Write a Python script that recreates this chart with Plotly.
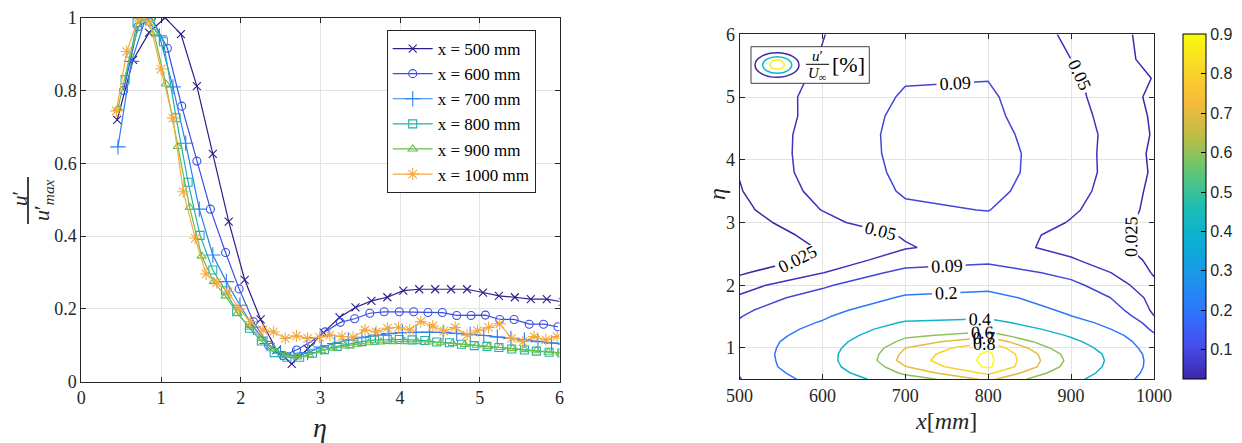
import plotly.graph_objects as go

W, H = 1242, 443
OFF = 8  # the page body adds an 8px margin around the figure


def px(x):
    return (x - OFF) / W


def py(y):
    return 1 - (y - OFF) / H


# ---------------- left panel: normalised profiles ----------------
eta_500 = [0.45, 0.65, 0.85, 1.05, 1.25, 1.45, 1.65, 1.85, 2.05, 2.25, 2.45, 2.64, 2.84, 3.04, 3.24, 3.44,
           3.64, 3.84, 4.04, 4.24, 4.44, 4.64, 4.84, 5.04, 5.24, 5.44, 5.64, 5.84, 6.04]
u_500 = [0.719, 0.884, 0.959, 1.0, 0.955, 0.812, 0.626, 0.44, 0.28, 0.171, 0.087, 0.049, 0.09, 0.135, 0.177,
         0.204, 0.222, 0.232, 0.25, 0.254, 0.254, 0.254, 0.254, 0.245, 0.236, 0.232, 0.227, 0.227, 0.219]

eta_600 = [0.53, 0.71, 0.88, 1.08, 1.26, 1.45, 1.62, 1.81, 1.98, 2.16, 2.35, 2.53, 2.70, 2.88, 3.06, 3.25,
           3.43, 3.62, 3.80, 3.99, 4.17, 4.35, 4.53, 4.71, 4.89, 5.07, 5.25, 5.43, 5.62, 5.80, 5.98]
u_600 = [0.80, 0.975, 1.0, 0.916, 0.757, 0.606, 0.474, 0.355, 0.255, 0.165, 0.10, 0.072, 0.087, 0.11, 0.137,
         0.163, 0.173, 0.188, 0.192, 0.192, 0.192, 0.19, 0.19, 0.182, 0.182, 0.183, 0.171, 0.171, 0.158,
         0.158, 0.151]

eta_700 = [0.46, 0.63, 0.81, 0.98, 1.15, 1.31, 1.48, 1.65, 1.82, 1.99, 2.16, 2.33, 2.50, 2.67, 2.84, 3.01,
           3.18, 3.35, 3.52, 3.69, 3.86, 4.03, 4.20, 4.37, 4.54, 4.71, 4.88, 5.05, 5.22, 5.39, 5.56, 5.73,
           5.90, 6.07]
u_700 = [0.645, 0.88, 1.0, 0.95, 0.81, 0.655, 0.474, 0.348, 0.275, 0.21, 0.15, 0.105, 0.08, 0.072, 0.08,
         0.095, 0.105, 0.115, 0.122, 0.128, 0.132, 0.135, 0.136, 0.136, 0.135, 0.133, 0.13, 0.127, 0.123,
         0.119, 0.115, 0.11, 0.106, 0.103]

eta_800 = [0.55, 0.70, 0.87, 1.03, 1.19, 1.34, 1.49, 1.65, 1.81, 1.95, 2.11, 2.26, 2.42, 2.58, 2.74, 2.90,
           3.05, 3.21, 3.37, 3.52, 3.68, 3.84, 3.99, 4.15, 4.31, 4.46, 4.62, 4.77, 4.93, 5.09, 5.24, 5.40,
           5.56, 5.71, 5.87, 6.03]
u_800 = [0.83, 0.986, 1.0, 0.934, 0.725, 0.548, 0.402, 0.307, 0.25, 0.192, 0.147, 0.112, 0.08, 0.067, 0.067,
         0.078, 0.088, 0.097, 0.104, 0.11, 0.114, 0.116, 0.116, 0.115, 0.113, 0.109, 0.107, 0.103, 0.099,
         0.097, 0.094, 0.09, 0.087, 0.084, 0.081, 0.079]

eta_900 = [0.46, 0.61, 0.76, 0.91, 1.06, 1.21, 1.36, 1.51, 1.66, 1.81, 1.96, 2.11, 2.26, 2.41, 2.56, 2.71,
           2.86, 3.01, 3.16, 3.31, 3.46, 3.61, 3.76, 3.91, 4.06, 4.21, 4.36, 4.51, 4.66, 4.81, 4.96, 5.11,
           5.26, 5.41, 5.56, 5.71, 5.86, 6.01]
u_900 = [0.751, 0.897, 1.0, 0.96, 0.818, 0.646, 0.479, 0.345, 0.275, 0.235, 0.188, 0.15, 0.119, 0.09, 0.073,
         0.068, 0.074, 0.085, 0.092, 0.098, 0.103, 0.107, 0.109, 0.11, 0.11, 0.11, 0.109, 0.107, 0.105,
         0.102, 0.1, 0.097, 0.094, 0.091, 0.088, 0.085, 0.081, 0.079]

eta_1000 = [0.44, 0.57, 0.72, 0.855, 1.0, 1.15, 1.28, 1.43, 1.565, 1.70, 1.84, 1.98, 2.12, 2.28, 2.41, 2.56,
            2.70, 2.84, 2.99, 3.12, 3.27, 3.41, 3.56, 3.70, 3.84, 3.98, 4.12, 4.26, 4.41, 4.55, 4.69, 4.84,
            4.97, 5.11, 5.25, 5.40, 5.54, 5.68, 5.83, 5.97]
u_1000 = [0.744, 0.907, 1.0, 0.99, 0.859, 0.724, 0.522, 0.394, 0.296, 0.272, 0.247, 0.20, 0.165, 0.142,
          0.137, 0.119, 0.126, 0.119, 0.122, 0.128, 0.124, 0.122, 0.142, 0.137, 0.147, 0.149, 0.142, 0.165,
          0.153, 0.139, 0.149, 0.128, 0.140, 0.149, 0.159, 0.119, 0.11, 0.124, 0.115, 0.124]

legend_names = ["x = 500 mm", "x = 600 mm", "x = 700 mm", "x = 800 mm", "x = 900 mm", "x = 1000 mm"]

# ---------------- right panel: u'/U_inf field ----------------
x_stations = [500, 600, 700, 800, 900, 1000]
eta_grid = [0.5, 0.6, 0.7, 0.8, 0.9, 1.0, 1.1, 1.2, 1.3, 1.4, 1.5, 1.6, 1.8, 2.0, 2.2, 2.4, 2.6, 2.8, 3.0,
            3.2, 3.5, 3.8, 4.1, 4.4, 4.7, 5.0, 5.3, 5.6, 6.0]
z_500 = [0.086, 0.095, 0.102, 0.106, 0.110, 0.112, 0.112, 0.109, 0.104, 0.096, 0.087, 0.076, 0.055, 0.036,
         0.022, 0.012, 0.0065, 0.0093, 0.014, 0.019, 0.0236, 0.026, 0.0284, 0.0287, 0.0287, 0.0279, 0.0266,
         0.026, 0.0253]
z_600 = [0.251, 0.282, 0.314, 0.321, 0.322, 0.309, 0.292, 0.263, 0.236, 0.21, 0.184, 0.159, 0.117, 0.080,
         0.049, 0.030, 0.027, 0.0325, 0.0416, 0.0507, 0.058, 0.0624, 0.0624, 0.0618, 0.059, 0.0594, 0.0556,
         0.0517, 0.049]
z_700 = [0.525, 0.629, 0.695, 0.745, 0.730, 0.700, 0.638, 0.571, 0.499, 0.419, 0.344, 0.289, 0.213, 0.155,
         0.104, 0.066, 0.048, 0.052, 0.071, 0.084, 0.094, 0.098, 0.101, 0.102, 0.100, 0.094, 0.087, 0.083,
         0.077]
z_800 = [0.724, 0.82, 0.917, 0.925, 0.919, 0.88, 0.784, 0.663, 0.553, 0.456, 0.368, 0.313, 0.236, 0.166,
         0.117, 0.078, 0.062, 0.066, 0.079, 0.091, 0.101, 0.107, 0.108, 0.103, 0.098, 0.095, 0.089, 0.082,
         0.075]
z_900 = [0.454, 0.510, 0.551, 0.569, 0.554, 0.503, 0.444, 0.378, 0.314, 0.255, 0.204, 0.174, 0.137, 0.102,
         0.075, 0.053, 0.041, 0.041, 0.048, 0.054, 0.060, 0.063, 0.063, 0.063, 0.060, 0.057, 0.054, 0.050,
         0.045]
z_1000 = [0.123, 0.139, 0.148, 0.149, 0.143, 0.129, 0.115, 0.099, 0.076, 0.063, 0.051, 0.0435, 0.038, 0.029,
          0.023, 0.0206, 0.018, 0.018, 0.018, 0.019, 0.020, 0.022, 0.021, 0.023, 0.022, 0.020, 0.024, 0.018,
          0.018]
contour_levels = [0.025, 0.05, 0.09, 0.2, 0.4, 0.6, 0.7, 0.8, 0.9]
cbar_ticks = [0.1, 0.2, 0.3, 0.4, 0.5, 0.6, 0.7, 0.8, 0.9]
CMIN, CMAX = 0.025, 0.9

# ---------------- styles ----------------
colors = ["#2b1f8c", "#3a4ee6", "#2a7ff0", "#1fb0b0", "#6cbd4c", "#f7a83c"]
symbols = ["x-thin-open", "circle-open", "cross-thin-open", "square-open", "triangle-up-open", "asterisk-open"]
sizes = [8, 8, 11, 8, 8, 10]

parula_stops = [(0.0, (62, 38, 168)), (0.1, (71, 78, 238)), (0.2, (45, 119, 252)),
                (0.3, (27, 150, 234)), (0.4, (10, 175, 212)), (0.5, (30, 190, 178)),
                (0.6, (95, 198, 118)), (0.7, (185, 190, 70)), (0.8, (246, 186, 60)),
                (0.9, (250, 214, 40)), (1.0, (249, 251, 14))]
parula = [[s, "rgb(%d,%d,%d)" % c] for s, c in parula_stops]


def parula_at(t):
    t = min(max(t, 0.0), 1.0)
    for (s0, c0), (s1, c1) in zip(parula_stops[:-1], parula_stops[1:]):
        if s0 <= t <= s1:
            f = (t - s0) / (s1 - s0)
            return "rgb(%d,%d,%d)" % tuple(round(a + f * (b - a)) for a, b in zip(c0, c1))
    return "rgb(%d,%d,%d)" % parula_stops[-1][1]


SERIF = "Liberation Serif"
AX = "#262626"

fig = go.Figure()

profiles = [(eta_500, u_500), (eta_600, u_600), (eta_700, u_700),
            (eta_800, u_800), (eta_900, u_900), (eta_1000, u_1000)]
for (e, u), name, c, s, sz in zip(profiles, legend_names, colors, symbols, sizes):
    fig.add_trace(go.Scatter(
        x=e, y=u, mode="lines+markers", name=name,
        line=dict(color=c, width=1.2),
        marker=dict(symbol=s, size=sz, color=c, line=dict(color=c, width=1.1)),
        xaxis="x", yaxis="y"))

Z = [list(row) for row in zip(z_500, z_600, z_700, z_800, z_900, z_1000)]
for lv in contour_levels:
    fig.add_trace(go.Contour(
        x=x_stations, y=eta_grid, z=Z, autocontour=False,
        contours=dict(start=lv, end=lv, size=0.001, coloring="none", showlabels=True,
                      labelfont=dict(family=SERIF, size=18, color="black")),
        line=dict(width=1.5, smoothing=0, color=parula_at((lv - CMIN) / (CMAX - CMIN))),
        showscale=False, xaxis="x2", yaxis="y2",
        showlegend=False, hoverinfo="skip"))

# colour bar carrier (no visible marks)
fig.add_trace(go.Scatter(
    x=[None], y=[None], mode="markers", showlegend=False, hoverinfo="skip",
    xaxis="x2", yaxis="y2",
    marker=dict(color=[CMIN], colorscale=parula, cmin=CMIN, cmax=CMAX, showscale=True,
                colorbar=dict(x=px(1182.7), xanchor="left", y=py(206.8), yanchor="middle",
                              thickness=23, thicknessmode="pixels",
                              len=345 / H, lenmode="fraction", xpad=0, ypad=0,
                              tickvals=cbar_ticks, ticks="inside", ticklen=5, tickcolor="black",
                              outlinewidth=1, outlinecolor="black",
                              tickfont=dict(family="Liberation Sans", size=16, color=AX)))))

axis_common = dict(showline=True, linecolor=AX, linewidth=1, mirror="ticks", ticks="inside",
                   ticklen=5, tickcolor=AX, showgrid=True, gridcolor="#e3e3e3", gridwidth=1,
                   zeroline=False, tickfont=dict(family=SERIF, size=18, color=AX))

fig.update_layout(
    width=W, height=H, margin=dict(l=0, r=0, t=0, b=0, pad=0, autoexpand=False),
    paper_bgcolor="white", plot_bgcolor="white",
    xaxis=dict(domain=[px(81.3), px(559.5)], range=[0, 6], tickvals=[0, 1, 2, 3, 4, 5, 6],
               anchor="y", **axis_common),
    yaxis=dict(domain=[py(381.7), py(17.7)], range=[0, 1], tickvals=[0, 0.2, 0.4, 0.6, 0.8, 1],
               ticktext=["0", "0.2", "0.4", "0.6", "0.8", "1"], anchor="x", **axis_common),
    xaxis2=dict(domain=[px(739.5), px(1154)], range=[500, 1000],
                tickvals=[500, 600, 700, 800, 900, 1000], anchor="y2", **axis_common),
    yaxis2=dict(domain=[py(379.3), py(34.3)], range=[0.5, 6], tickvals=[1, 2, 3, 4, 5, 6],
                anchor="x2", **axis_common),
    legend=dict(x=px(386.7), y=py(30), xanchor="left", yanchor="top",
                bgcolor="white", bordercolor=AX, borderwidth=1,
                font=dict(family=SERIF, size=17, color="black"), tracegroupgap=0,
                itemwidth=40),
)


def label(x, y, text, size, angle=0, color=AX):
    return dict(x=px(x), y=py(y), xref="paper", yref="paper", text=text, showarrow=False,
                xanchor="center", yanchor="middle", textangle=angle,
                font=dict(family=SERIF, size=size, color=color))


ann = [
    label(320, 427, "<i>η</i>", 28),
    label(20, 199, "<i>u</i>′", 21, -90),
    label(43, 200, "<i>u</i>′<sub><i>max</i></sub>", 22, -90),
    label(717, 194, "<i>η</i>", 24, -90),
    label(946, 421, "<i>x</i>[<i>mm</i>]", 24),
    label(817, 56, "<i>u</i>′", 15, 0, "black"),
    label(817, 74, "<i>U</i><sub>∞</sub>", 15, 0, "black"),
    label(848, 64, "[%]", 22, 0, "black"),
]

shapes = [
    dict(type="line", xref="paper", yref="paper", x0=px(28), x1=px(28), y0=py(177), y1=py(224),
         line=dict(color="black", width=1.5)),
    dict(type="rect", xref="paper", yref="paper", x0=px(751), x1=px(869.3), y0=py(83.3), y1=py(46.7),
         line=dict(color="#404040", width=1), fillcolor="white", layer="above"),
    dict(type="circle", xref="paper", yref="paper", x0=px(755), x1=px(799), y0=py(77.3), y1=py(52.7),
         line=dict(color="rgb(62,38,168)", width=1.5), layer="above"),
    dict(type="circle", xref="paper", yref="paper", x0=px(762.7), x1=px(791.7), y0=py(73.3), y1=py(56.7),
         line=dict(color="rgb(10,185,200)", width=1.5), layer="above"),
    dict(type="circle", xref="paper", yref="paper", x0=px(770), x1=px(784.3), y0=py(69.3), y1=py(60),
         line=dict(color="rgb(245,240,20)", width=1.5), layer="above"),
    dict(type="line", xref="paper", yref="paper", x0=px(806), x1=px(829), y0=py(64.3), y1=py(64.3),
         line=dict(color="black", width=1), layer="above"),
]
fig.update_layout(annotations=ann, shapes=shapes)

fig.write_html("out.html")
